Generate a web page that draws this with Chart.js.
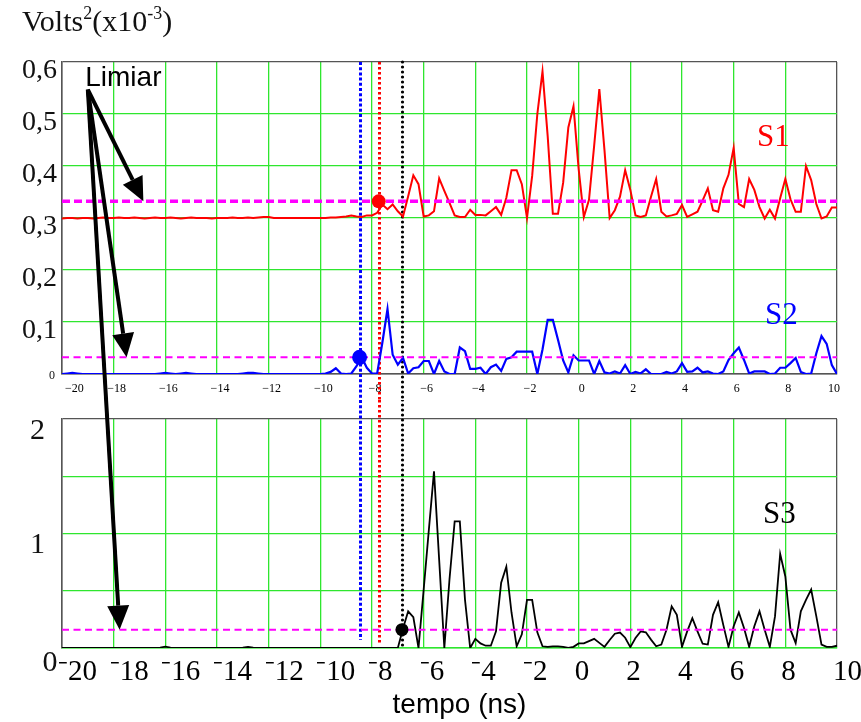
<!DOCTYPE html>
<html>
<head>
<meta charset="utf-8">
<script src="https://cdn.jsdelivr.net/npm/chart.js@4.4.1/dist/chart.umd.min.js"></script>
<style>
    body { margin: 0; background: #fff; }
    #wrap { position: relative; width: 861px; height: 722px; overflow: hidden; }
    #wrap canvas { position: absolute; left: 0; }
    #title { position: absolute; left: 22px; top: 6px; font: 30px "Liberation Serif", serif; line-height: 1; color: #111; white-space: nowrap; }
    #title span { font-size: 18px; position: relative; top: -12px; }
</style>
</head>
<body>
<div id="wrap">
    <canvas id="top-chart" width="861" height="400" style="top:0"></canvas>
    <canvas id="bottom-chart" width="861" height="322" style="top:400px"></canvas>
    <canvas id="arrows" width="861" height="722" style="top:0;pointer-events:none"></canvas>
    <div id="title">Volts<span>2</span>(x10<span>-3</span>)</div>
</div>
<script>
/* ============================================
   S1 / S2 / S3 — sinal ao quadrado vs tempo
   ============================================ */

// amostragem: -20 ns a 10 ns, passo 0,2 ns
const tStart = -20;
const tStep = 0.2;

const s1Values = [
    0.299, 0.300, 0.300, 0.299, 0.300, 0.300, 0.299, 0.300, 0.301, 0.300,
    0.300, 0.301, 0.300, 0.300, 0.301, 0.300, 0.299, 0.300, 0.301, 0.300,
    0.300, 0.301, 0.300, 0.299, 0.300, 0.301, 0.300, 0.300, 0.300, 0.299,
    0.300, 0.300, 0.300, 0.301, 0.300, 0.300, 0.301, 0.300, 0.301, 0.302,
    0.302, 0.300, 0.300, 0.300, 0.300, 0.300, 0.300, 0.300, 0.300, 0.300,
    0.300, 0.300, 0.301, 0.301, 0.302, 0.303, 0.305, 0.303, 0.302, 0.305,
    0.305, 0.310, 0.326, 0.317, 0.326, 0.313, 0.303, 0.342, 0.382, 0.365,
    0.303, 0.305, 0.313, 0.376, 0.352, 0.329, 0.305, 0.302, 0.302, 0.316,
    0.306, 0.306, 0.305, 0.313, 0.321, 0.306, 0.339, 0.392, 0.392, 0.365,
    0.300, 0.381, 0.500, 0.582, 0.458, 0.308, 0.308, 0.368, 0.474, 0.515,
    0.394, 0.302, 0.335, 0.439, 0.548, 0.430, 0.300, 0.315, 0.341, 0.392,
    0.354, 0.305, 0.302, 0.305, 0.341, 0.375, 0.312, 0.303, 0.305, 0.308,
    0.325, 0.302, 0.307, 0.312, 0.334, 0.357, 0.315, 0.312, 0.357, 0.383,
    0.435, 0.327, 0.321, 0.375, 0.354, 0.321, 0.299, 0.316, 0.299, 0.338,
    0.375, 0.336, 0.312, 0.312, 0.400, 0.373, 0.327, 0.299, 0.303, 0.320,
    0.320
];

const s2Values = [
    0, 0.001, 0.002, 0.001, 0, 0, 0, 0, 0, 0,
    0, 0, 0, 0, 0, 0, 0, 0, 0, 0.001,
    0.002, 0.001, 0, 0.001, 0.002, 0.001, 0, 0, 0, 0,
    0, 0, 0, 0, 0, 0.001, 0.002, 0.002, 0.001, 0,
    0, 0, 0, 0, 0, 0, 0, 0, 0, 0,
    0, 0.001, 0.004,
    0.011, 0.001, 0, 0.001, 0.015, 0.032, 0.012, 0.001, 0.001, 0.060,
    0.125, 0.037, 0.018, 0.031, 0.001, 0.011, 0.013,
    0.025, 0.025, 0, 0.025, 0.005, 0, 0, 0.051, 0.044, 0.010,
    0.010, 0.012, 0, 0.013, 0.018, 0.006, 0.029, 0.032, 0.043, 0.043,
    0.043, 0.043, 0, 0.047, 0.104, 0.104, 0.066, 0.026, 0.003, 0.036,
    0.026, 0.026, 0.026, 0, 0.025, 0.003, 0.001, 0.005, 0.001, 0.017,
    0, 0.004, 0.001, 0.009, 0, 0, 0, 0.004, 0.001, 0.005,
    0.021, 0.004, 0.005, 0.012, 0.003, 0.005, 0.001, 0, 0.005, 0.027,
    0.040, 0.051, 0.027, 0.001, 0.005, 0.005, 0.005, 0, 0.001, 0.012,
    0.012, 0.021, 0.031, 0.004, 0, 0.001, 0.040, 0.073, 0.058, 0.017,
    0
];

const s3Values = [
    0, 0, 0, 0, 0, 0, 0, 0, 0, 0,
    0, 0, 0, 0, 0, 0, 0, 0, 0, 0.004,
    0.012, 0.004, 0, 0, 0, 0, 0, 0, 0, 0,
    0, 0, 0, 0, 0, 0.004, 0.010, 0.003, 0, 0,
    0, 0, 0, 0, 0, 0, 0, 0, 0, 0,
    0, 0, 0, 0, 0, 0, 0, 0, 0, 0,
    0, 0, 0, 0, 0,
    0, 0.17, 0.32, 0.27, 0, 0.51, 1.03, 1.543, 0.77, 0,
    0.60, 1.106, 1.106, 0.42, 0, 0.08, 0.04, 0.02, 0.02, 0.146,
    0.57, 0.71, 0.31, 0.015, 0.12, 0.42, 0.42, 0.137, 0.015, 0.01,
    0.015, 0.015, 0.01, 0, 0.01, 0.04, 0.04, 0.06, 0.08, 0.045,
    0.01, 0.07, 0.125, 0.135, 0.09, 0.008,
    0.087, 0.145, 0.137, 0.073, 0.015, 0.03, 0.16, 0.364, 0.29, 0.01,
    0.145, 0.26, 0.145, 0.037, 0.03, 0.29, 0.40, 0.20, 0.01, 0.19,
    0.31, 0.175, 0.01, 0.19, 0.32, 0.16, 0.01, 0.276, 0.823, 0.625,
    0.16, 0.043, 0.32, 0.42, 0.51, 0.276, 0.03, 0.01, 0.01, 0.02
];

// S1, S2, S3
const limiares = [0.332, 0.032, 0.16];
const disparos = [-7.74, -8.48, -6.84];

const topTimeLabels = ['\u221220', '\u221218', '\u221216', '\u221214', '\u221212', '\u221210', '\u22128', '\u22126',
                       '\u22124', '\u22122', '0', '2', '4', '6', '8', '10'];
const bottomTimeLabels = ['\u207b20', '\u207b18', '\u207b16', '\u207b14', '\u207b12', '\u207b10', '\u207b8', '\u207b6',
                          '\u207b4', '\u207b2', '0', '2', '4', '6', '8', '10'];
const topVoltLabels = ['0', '0,1', '0,2', '0,3', '0,4', '0,5', '0,6'];
const bottomVoltLabels = ['0', '', '1', '', '2'];

const SERIF = '"Liberation Serif", "Times New Roman", serif';
const SANS = '"Liberation Sans", Arial, sans-serif';
const GRID = '#2ee62e';
const FRAME = '#555';
const BOTTOM_TOP = 400;
const tEnd = tStart + (s1Values.length - 1) * tStep;

const sinalCores = ['#ff0000', '#0000ff', '#000000'];

function serie(vals) {
    return vals.map((v, i) => ({ x: tStart + i * tStep, y: v }));
}

function curve(vals, color, width) {
    return { data: serie(vals), borderColor: color, borderWidth: width, pointRadius: 0, tension: 0, order: 3 };
}

function limiarLine(i, width, dash) {
    return {
        data: [{ x: tStart, y: limiares[i] }, { x: tEnd, y: limiares[i] }],
        borderColor: '#ff00ff', borderWidth: width, borderDash: dash, pointRadius: 0, order: 2
    };
}

function dot(i, r) {
    return {
        type: 'scatter', data: [{ x: disparos[i], y: limiares[i] }],
        pointRadius: r, pointBackgroundColor: sinalCores[i], pointBorderWidth: 0, order: 1
    };
}

// tamanhos fixos dos eixos, sem as margens automáticas do Chart.js
function timeAxis(labels, size, align, padding, offset, borderColor, height) {
    return {
        type: 'linear', min: tStart, max: tEnd,
        afterFit: s => { s.height = height; s.paddingLeft = 0; s.paddingRight = 0; },
        border: { color: borderColor, width: 1.5 },
        grid: { drawTicks: false, lineWidth: 1.3, color: c => (c.index === 0 || c.index === labels.length - 1) ? FRAME : GRID },
        ticks: {
            stepSize: 2, autoSkip: false, maxRotation: 0, align, padding, labelOffset: offset, color: '#000',
            font: { family: SERIF, size }, callback: (v, i) => labels[i]
        }
    };
}

function voltAxis(max, step, labels, size, padding, offset, frameAtZero) {
    return {
        min: 0, max,
        afterFit: s => { s.width = 62; s.paddingTop = 0; s.paddingBottom = 0; },
        border: { color: FRAME, width: 1.5 },
        grid: {
            drawTicks: false, lineWidth: 1.3,
            color: c => (c.index === labels.length - 1 || (frameAtZero && c.index === 0)) ? FRAME : GRID
        },
        ticks: {
            stepSize: step, padding, labelOffset: offset, color: '#111',
            font: { family: SERIF, size }, callback: (v, i) => i === 0 ? '' : labels[i]
        }
    };
}

function options(padTop, scales) {
    return {
        responsive: false, animation: false, devicePixelRatio: 1, events: [],
        layout: { padding: { top: padTop, right: 24, left: 0, bottom: 0 } },
        plugins: { legend: { display: false }, tooltip: { enabled: false } },
        scales
    };
}

// linhas verticais pontilhadas: vermelha (S1), azul (S2), preta (S3)
const tracejados = [[2.5, 2.5], [3, 2.2], [0, 5]];
const larguras = [3, 3, 3.2];
const fimLinha = [0.03, 0.07, -0.015];

function drawTriggers(chart, yFrom, yTo) {
    const { ctx, scales: { x } } = chart;
    ctx.save();
    disparos.forEach((t, i) => {
        const px = Math.round(x.getPixelForValue(t)) + 0.5;
        ctx.beginPath();
        ctx.strokeStyle = sinalCores[i];
        ctx.lineWidth = larguras[i];
        ctx.lineCap = i === 2 ? 'round' : 'butt';
        ctx.setLineDash(tracejados[i]);
        ctx.moveTo(px, yFrom(i));
        ctx.lineTo(px, yTo(i));
        ctx.stroke();
    });
    ctx.restore();
}

function text(ctx, str, x, y, font, color, align, baseline) {
    ctx.save();
    ctx.font = font;
    ctx.fillStyle = color;
    ctx.textAlign = align;
    ctx.textBaseline = baseline;
    ctx.fillText(str, x, y);
    ctx.restore();
}

function drawArrow(ctx, x0, y0, x1, y1) {
    const a = Math.atan2(y1 - y0, x1 - x0);
    const len = 24, half = 11;
    const bx = x1 - len * Math.cos(a), by = y1 - len * Math.sin(a);
    ctx.beginPath();
    ctx.moveTo(x0, y0);
    ctx.lineTo(bx, by);
    ctx.stroke();
    ctx.beginPath();
    ctx.moveTo(x1, y1);
    ctx.lineTo(bx + half * Math.sin(a), by - half * Math.cos(a));
    ctx.lineTo(bx - half * Math.sin(a), by + half * Math.cos(a));
    ctx.closePath();
    ctx.fill();
}

const limiarOrigem = [-19.0, 0.547];
const limiarAlvos = [-16.85, -17.5, -17.77];

const topChart = new Chart(document.getElementById('top-chart'), {
    type: 'line',
    data: {
        datasets: [
            dot(0, 7), dot(1, 7.5),
            limiarLine(0, 3.5, [8, 4]), limiarLine(1, 2, [7, 4.5]),
            curve(s1Values, '#ff0000', 2), curve(s2Values, '#0000ff', 2.2)
        ]
    },
    options: options(62, {
        x: timeAxis(topTimeLabels, 12, 'inner', 8, 3, FRAME, 26),
        y: voltAxis(0.6, 0.1, topVoltLabels, 28, 5, 9, true)
    }),
    plugins: [{
        id: 'topMarks',
        beforeDatasetsDraw(chart) {
            drawTriggers(chart, () => chart.chartArea.top, () => chart.height);
        },
        afterDraw(chart) {
            const { ctx, scales: { x, y }, chartArea } = chart;
            text(ctx, topVoltLabels[0], chartArea.left - 7, y.getPixelForValue(0) + 1.5, `12px ${SERIF}`, '#111', 'right', 'middle');
            text(ctx, 'Limiar', x.getPixelForValue(-19.1), y.getPixelForValue(0.554), `28px ${SANS}`, '#000', 'left', 'alphabetic');
            text(ctx, 'S1', x.getPixelForValue(7.54), y.getPixelForValue(0.454), `31px ${SERIF}`, '#ff0000', 'center', 'middle');
            text(ctx, 'S2', x.getPixelForValue(7.85), y.getPixelForValue(0.1115), `31px ${SERIF}`, '#0000ff', 'center', 'middle');
        }
    }]
});

const bottomChart = new Chart(document.getElementById('bottom-chart'), {
    type: 'line',
    data: {
        datasets: [dot(2, 6.5), limiarLine(2, 2, [7, 4.5]), curve(s3Values, '#000000', 1.8)]
    },
    options: options(19, {
        x: timeAxis(bottomTimeLabels, 29, 'start', 7, -4, GRID, 74),
        y: voltAxis(2, 0.5, bottomVoltLabels, 30, 17, 12, false)
    }),
    plugins: [{
        id: 'bottomMarks',
        beforeDatasetsDraw(chart) {
            drawTriggers(chart, () => 0, i => chart.scales.y.getPixelForValue(fimLinha[i]));
        },
        afterDraw(chart) {
            const { ctx, scales: { x, y }, chartArea } = chart;
            text(ctx, bottomVoltLabels[0], chartArea.left - 12, y.getPixelForValue(0) + 15, `30px ${SERIF}`, '#111', 'center', 'middle');
            text(ctx, 'S3', x.getPixelForValue(7.77), y.getPixelForValue(1.164), `31px ${SERIF}`, '#000', 'center', 'middle');
            text(ctx, 'tempo (ns)', (chartArea.left + chartArea.right) / 2 + 10, 305, `28px ${SANS}`, '#000', 'center', 'middle');

            // setas do "Limiar" atravessam os dois painéis
            const over = document.getElementById('arrows').getContext('2d');
            const tx = topChart.scales.x, ty = topChart.scales.y;
            const ox = tx.getPixelForValue(limiarOrigem[0]);
            const oy = ty.getPixelForValue(limiarOrigem[1]);
            const tips = [
                [tx.getPixelForValue(limiarAlvos[0]), ty.getPixelForValue(limiares[0])],
                [tx.getPixelForValue(limiarAlvos[1]), ty.getPixelForValue(limiares[1])],
                [x.getPixelForValue(limiarAlvos[2]), BOTTOM_TOP + y.getPixelForValue(limiares[2])]
            ];
            over.clearRect(0, 0, 861, 722);
            over.strokeStyle = '#000';
            over.fillStyle = '#000';
            over.lineWidth = 4;
            tips.forEach(([px, py]) => drawArrow(over, ox, oy, px, py));
        }
    }]
});
</script>
</body>
</html>
